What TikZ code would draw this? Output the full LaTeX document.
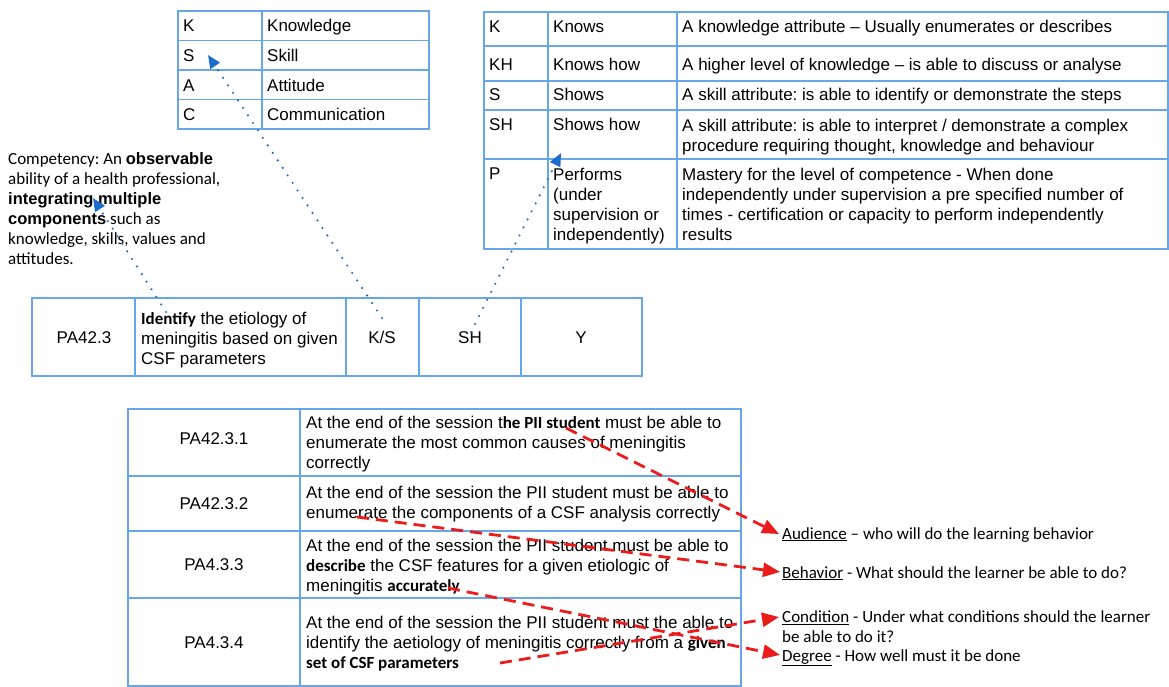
\documentclass[tikz,border=0pt]{standalone}
\usepackage{fontspec}
\setmainfont{Liberation Sans}
\newfontfamily\calfont{Carlito}
\usetikzlibrary{arrows.meta}

\definecolor{gridblue}{RGB}{104,166,234}
\definecolor{dotblue}{RGB}{28,108,206}
\definecolor{dashred}{RGB}{235,28,28}

\newcommand\cb[1]{{\calfont\bfseries #1}}
\newcommand\hb[1]{{\rmfamily\bfseries\fontsize{16.5}{20}\selectfont #1}}
\frenchspacing

\begin{document}
\begin{tikzpicture}[x=1pt,y=-1pt,
  txt/.style={inner sep=0pt, anchor=base west, font=\fontsize{17}{20}\selectfont, align=left},
  % multi-line cells: placed by the baseline of their first line
  mtxt/.style={txt, anchor=north west, yshift=14pt},
  ctxt/.style={inner sep=0pt, anchor=base, font=\fontsize{17}{20}\selectfont},
  cal/.style={inner sep=0pt, anchor=base west, font=\calfont\fontsize{17}{20}\selectfont, align=left},
  mcal/.style={cal, anchor=north west, yshift=14pt},
  thingrid/.style={draw=gridblue, line width=1.2pt},
  thickgrid/.style={draw=gridblue, line width=2.2pt},
  dotarrow/.style={draw=dotblue, line width=2.4pt, line cap=round, dash pattern=on 0pt off 9pt,
    -{Triangle[length=13pt,width=11pt,fill=dotblue]}},
  dasharrow/.style={draw=dashred, line width=2.8pt, dash pattern=on 12pt off 7pt,
    -{Triangle[length=17pt,width=14pt,fill=dashred]}},
]
\useasboundingbox (0,0) rectangle (1169,687);

% ---- K / S / A / C legend ----
\draw[thingrid] (178,11) rectangle (429,129);
\draw[thingrid] (262,11) -- (262,129);
\foreach \yy in {40.5,70,99.5} \draw[thingrid] (178,\yy) -- (429,\yy);
\node[txt] (lk) at (183,32) {K};
\node[txt] (lkt) at (267,32) {Knowledge};
\node[txt] (ls) at (183,62) {S};
\node[txt] (lst) at (267,62) {Skill};
\node[txt] (la) at (183,92) {A};
\node[txt] (lat) at (267,92) {Attitude};
\node[txt] (lc) at (183,121) {C};
\node[txt] (lct) at (267,121) {Communication};

% ---- Miller levels ----
\draw[thingrid] (484,12) rectangle (1168,249);
\draw[thingrid] (548,12) -- (548,249);
\draw[thingrid] (677,12) -- (677,249);
\foreach \yy in {46,81,110,159} \draw[thingrid] (484,\yy) -- (1168,\yy);
\node[txt] (mk) at (489,33) {K};
\node[txt] (mkn) at (553,33) {Knows};
\node[txt] (mkd) at (682,33) {A knowledge attribute – Usually enumerates or describes};
\node[txt] (mkh) at (489,71) {KH};
\node[txt] (mkhn) at (553,71) {Knows how};
\node[txt] (mkhd) at (682,71) {A higher level of knowledge – is able to discuss or analyse};
\node[txt] (ms) at (489,101) {S};
\node[txt] (msn) at (553,101) {Shows};
\node[txt] (msd) at (682,101) {A skill attribute: is able to identify or demonstrate the steps};
\node[txt] (msh) at (489,131) {SH};
\node[txt] (mshn) at (553,131) {Shows how};
\node[mtxt] (mshd) at (682,131) {\strut A skill attribute: is able to interpret / demonstrate a complex\\procedure requiring thought, knowledge and behaviour};
\node[txt] (mp) at (489,180) {P};
\node[mtxt] (mpn) at (553,180) {\strut Performs\\(under\\supervision or\\independently)};
\node[mtxt] (mpd) at (682,180) {\strut Mastery for the level of competence - When done\\independently under supervision a pre specified number of\\times - certification or capacity to perform independently\\results};

% ---- competency definition ----
\node[mcal] (comp) at (8,164) {\strut Competency: An \hb{observable}\\ability of a health professional,\\\hb{integrating multiple}\\\hb{components} such as\\knowledge, skills, values and\\attitudes.};

% ---- competency row ----
\draw[thickgrid] (32,298) rectangle (642,376);
\foreach \xx in {135,346,419,521} \draw[thickgrid] (\xx,298) -- (\xx,376);
\node[ctxt] (code) at (84,343) {PA42.3};
\node[mtxt] (desc) at (141,324) {\strut\cb{Identify} the etiology of\\meningitis based on given\\CSF parameters};
\node[ctxt] (dom) at (382,343) {K/S};
\node[ctxt] (lvl) at (470,343) {SH};
\node[ctxt] (core) at (581,343) {Y};

% ---- specific learning objectives ----
\draw[thickgrid] (128,409) rectangle (741,686);
\draw[thickgrid] (300,409) -- (300,686);
\foreach \yy in {476,531,598} \draw[thickgrid] (128,\yy) -- (741,\yy);
\node[ctxt] (o1) at (214,444) {PA42.3.1};
\node[ctxt] (o2) at (214,509) {PA42.3.2};
\node[ctxt] (o3) at (214,570) {PA4.3.3};
\node[ctxt] (o4) at (214,648) {PA4.3.4};
\node[mtxt] (t1) at (306,428) {\strut At the end of the session t\cb{he PII student} must be able to\\enumerate the most common causes of meningitis\\correctly};
\node[mtxt] (t2) at (306,498) {\strut At the end of the session the PII student must be able to\\enumerate the components of a CSF analysis correctly};
\node[mtxt] (t3) at (306,551) {\strut At the end of the session the PII student must be able to\\\cb{describe} the CSF features for a given etiologic of\\meningitis \cb{accurately}};
\node[mtxt] (t4) at (306,628) {\strut At the end of the session the PII student must the able to\\identify the aetiology of meningitis correctly from a \cb{given}\\\cb{set of CSF parameters}};

% ---- ABCD labels ----
\node[cal] (aud) at (782,539) {\underline{Audience} – who will do the learning behavior};
\node[cal] (beh) at (782,578) {\underline{Behavior} - What should the learner be able to do?};
\node[mcal] (cond) at (782,622) {\strut\underline{Condition} - Under what conditions should the learner\\be able to do it?};
\node[cal] (deg) at (782,661) {\underline{Degree} - How well must it be done};

% ---- connector end points ----
\coordinate (dDesc) at (166,312);
\coordinate (dComp) at (93,198);
\coordinate (dDom) at (382,318);
\coordinate (dSkill) at (208,55);
\coordinate (dLvl) at (471,332);
\coordinate (dPerf) at (561,153);

\coordinate (rAud) at (566,428);
\coordinate (rBeh) at (357,517);
\coordinate (rCond) at (500,663);
\coordinate (rDeg) at (448,588);
\coordinate (aAud) at (779,534);
\coordinate (aBeh) at (780,572);
\coordinate (aCond) at (779,617);
\coordinate (aDeg) at (780,655);

\draw[dotarrow] (dDesc) -- (dComp);
\draw[dotarrow] (dDom) -- (dSkill);
\draw[dotarrow] (dLvl) -- (dPerf);

\draw[dasharrow] (rAud) -- (aAud);
\draw[dasharrow] (rBeh) -- (aBeh);
\draw[dasharrow] (rCond) -- (aCond);
\draw[dasharrow] (rDeg) -- (aDeg);
\end{tikzpicture}
\end{document}
